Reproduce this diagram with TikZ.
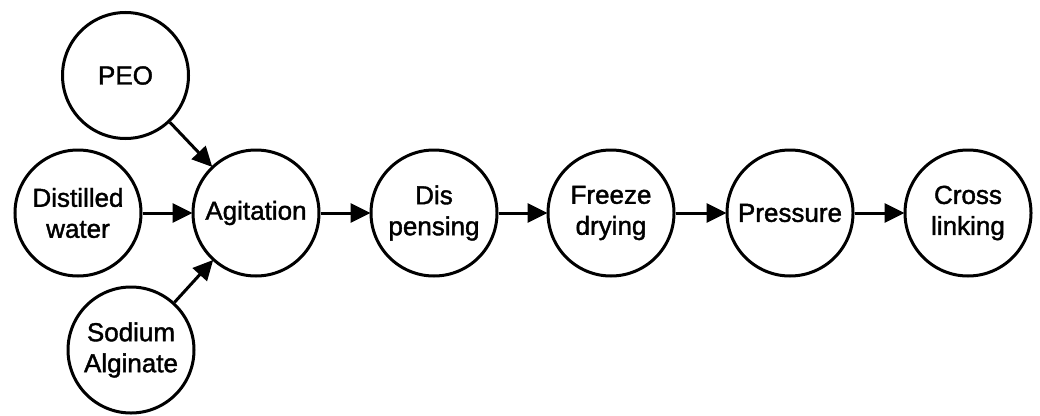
\documentclass[tikz,border=0pt]{standalone}
\usepackage{fontspec}
\setmainfont[FakeBold=1.5]{Liberation Sans}
\usetikzlibrary{arrows.meta}
\begin{document}
\begin{tikzpicture}[x=1pt,y=-1pt,
  proc/.style={circle, draw=black, line width=3pt, minimum size=126pt, inner sep=0pt,
    align=center, font=\fontsize{26}{31}\selectfont},
  flow/.style={line width=3pt, -{Triangle[length=20pt,width=19pt]}, shorten >=-1pt}]
\useasboundingbox (0,0) rectangle (1040,415);
\node[proc] (peo) at (125.5,75.5) {PEO};
\node[proc] (water) at (78,213) {Distilled\\water};
\node[proc] (sod) at (131,350) {Sodium\\Alginate};
\node[proc] (agi) at (256,213) {Agitation};
\node[proc] (dis) at (434,213) {Dis\\pensing};
\node[proc] (frz) at (611,213) {Freeze\\drying};
\node[proc] (prs) at (790,213) {Pressure};
\node[proc] (crs) at (968,213) {Cross\\linking};
\draw[flow] (peo) -- (agi);
\draw[flow] (water) -- (agi);
\draw[flow] (sod) -- (agi);
\draw[flow] (agi) -- (dis);
\draw[flow] (dis) -- (frz);
\draw[flow] (frz) -- (prs);
\draw[flow] (prs) -- (crs);
\end{tikzpicture}
\end{document}
